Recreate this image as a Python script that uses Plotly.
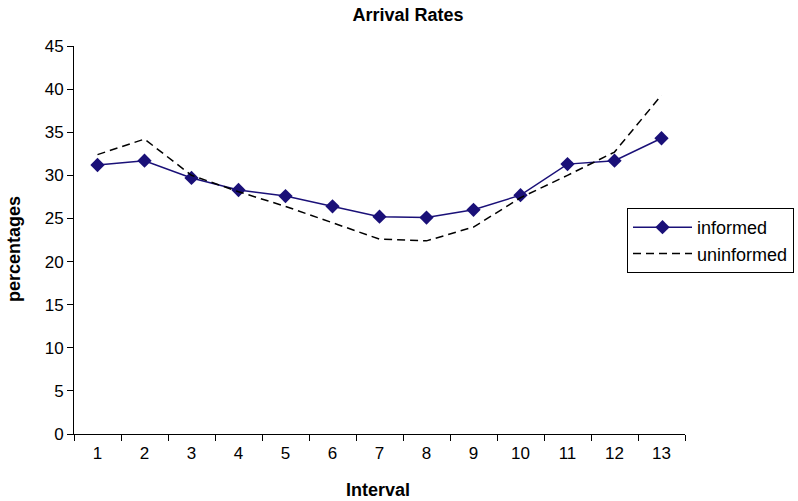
import plotly.graph_objects as go

intervals = [str(i) for i in range(1, 14)]
informed = [31.2, 31.7, 29.7, 28.3, 27.6, 26.4, 25.2, 25.1, 26.0, 27.7, 31.3, 31.7, 34.3]
uninformed = [32.4, 34.2, 30.0, 28.1, 26.4, 24.5, 22.6, 22.4, 24.0, 27.4, 30.0, 32.7, 39.3]
y_ticks = list(range(0, 50, 5))

W, H = 798, 501
L, R, T, B = 74, 113, 46, 67

fig = go.Figure()
fig.add_trace(go.Scatter(
    x=intervals, y=informed, name="informed", mode="lines+markers",
    line=dict(color="#1a1078", width=1.5),
    marker=dict(symbol="diamond", size=11, color="#1a1078"),
    legendgroup="a",
))
fig.add_trace(go.Scatter(
    x=intervals, y=uninformed, name="uninformed", mode="lines",
    line=dict(color="black", width=1.5, dash="8px,5px"),
    legendgroup="b",
))

font = "Liberation Sans, Arial, sans-serif"
fig.update_layout(
    width=W, height=H,
    margin=dict(l=L, r=R, t=T, b=B, autoexpand=False),
    paper_bgcolor="white", plot_bgcolor="white",
    font=dict(family=font, size=17, color="black"),
    title=dict(text="<b>Arrival Rates</b>", x=408 / W, xanchor="center",
               y=1 - 15 / H, yanchor="middle", font=dict(size=18)),
    showlegend=True,
    legend=dict(x=(627 - L) / (W - L - R), y=(H - B - 208) / (H - T - B),
                xanchor="left", yanchor="top",
                bordercolor="black", borderwidth=1, bgcolor="white",
                font=dict(size=18), tracegroupgap=0, itemwidth=59,
                traceorder="grouped"),
    xaxis=dict(type="category", range=[-0.5, len(intervals) - 0.5],
               showline=True, linecolor="black", linewidth=1,
               ticks="outside", tickson="boundaries", ticklen=6, tickcolor="black",
               showgrid=False, zeroline=False, ticklabelstandoff=4,
               automargin=False),
    yaxis=dict(range=[0, 45], tickvals=y_ticks, showline=True, linecolor="black",
               linewidth=1, ticks="outside", ticklen=6, tickcolor="black",
               showgrid=False, zeroline=False, automargin=False),
    annotations=[
        dict(text="<b>Interval</b>", xref="paper", yref="paper",
             x=(378 - L) / (W - L - R), y=(H - B - 490) / (H - T - B),
             xanchor="center", yanchor="middle", showarrow=False,
             font=dict(size=18)),
        dict(text="<b>percentages</b>", xref="paper", yref="paper",
             x=(14 - L) / (W - L - R), y=(H - B - 249) / (H - T - B),
             xanchor="center", yanchor="middle", showarrow=False, textangle=-90,
             font=dict(size=18)),
    ],
)

fig.write_html("out.html")
